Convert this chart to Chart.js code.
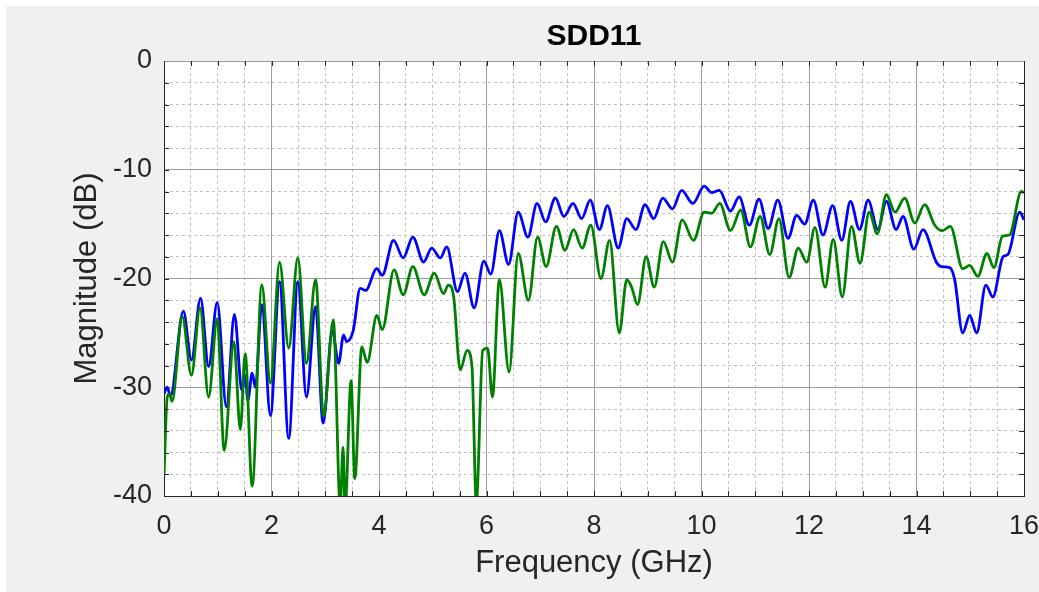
<!DOCTYPE html>
<html>
<head>
<meta charset="utf-8">
<script src="https://cdn.jsdelivr.net/npm/chart.js@4.4.1/dist/chart.umd.min.js"></script>
<style>
  html, body { margin: 0; padding: 0; background: #ffffff; }
  #wrap { position: absolute; left: 6px; top: 6px; width: 1033px; height: 586px; background: #f0f0f0; }
</style>
</head>
<body>
<div id="wrap"><canvas id="sdd11"></canvas></div>
<script>
// Datos (frecuencia en GHz, magnitud en dB)
const blueFreq = [0.00, 0.06, 0.12, 0.36, 0.51, 0.68, 0.83, 0.99, 1.16, 1.31, 1.45, 1.51, 1.56, 1.64, 1.70,
  1.82, 1.98, 2.15, 2.32, 2.49, 2.65, 2.82, 2.96, 3.13, 3.25, 3.34, 3.40, 3.52, 3.65, 3.75, 3.96, 4.06,
  4.27, 4.45, 4.63, 4.83, 4.98, 5.14, 5.26, 5.46, 5.60, 5.77, 5.95, 6.08, 6.24, 6.41, 6.59, 6.77, 6.94,
  7.10, 7.28, 7.44, 7.61, 7.77, 7.93, 8.10, 8.25, 8.45, 8.61, 8.78, 8.95, 9.11, 9.28, 9.46, 9.63, 9.84,
  10.05, 10.19, 10.33, 10.54, 10.70, 10.89, 11.07, 11.24, 11.42, 11.61, 11.77, 11.92, 12.08, 12.26, 12.44,
  12.61, 12.77, 12.94, 13.10, 13.28, 13.44, 13.62, 13.75, 13.95, 14.12, 14.37, 14.46, 14.62, 14.71, 14.86,
  14.99, 15.12, 15.29, 15.42, 15.61, 15.70, 15.92, 16.00];
const blueMag = [-30.6, -30.0, -30.8, -23.0, -27.5, -21.8, -28.1, -22.2, -31.8, -23.3, -30.3, -28.9, -31.2, -28.7, -30.0,
  -22.4, -32.6, -20.3, -34.7, -20.3, -30.9, -22.6, -33.3, -24.8, -27.8, -25.2, -25.8, -24.8, -20.9, -21.1, -19.1, -19.7,
  -16.5, -18.1, -16.2, -18.5, -17.2, -18.1, -17.1, -21.2, -19.5, -22.7, -18.4, -19.6, -15.6, -18.7, -13.9, -16.2, -13.1,
  -14.8, -12.6, -14.3, -13.1, -14.5, -12.8, -15.5, -13.3, -17.2, -14.5, -15.5, -13.2, -14.5, -12.6, -13.6, -11.9, -13.1,
  -11.5, -12.1, -11.9, -13.8, -12.5, -15.1, -12.7, -15.4, -12.8, -16.3, -14.2, -15.0, -12.8, -16.0, -13.3,
  -16.5, -12.9, -15.5, -12.8, -15.5, -12.9, -15.5, -14.3, -17.3, -15.5, -18.5, -18.9, -19.0, -20.1, -25.0,
  -23.4, -25.0, -20.6, -21.7, -18.0, -17.8, -13.9, -14.6];

const greenFreq = [0.00, 0.06, 0.10, 0.15, 0.34, 0.51, 0.67, 0.83, 0.99, 1.12, 1.30, 1.42, 1.51, 1.64, 1.82,
  1.98, 2.15, 2.32, 2.49, 2.65, 2.82, 2.97, 3.15, 3.28, 3.33, 3.37, 3.48, 3.55, 3.68, 3.78, 3.96, 4.06,
  4.28, 4.45, 4.63, 4.84, 5.03, 5.20, 5.29, 5.39, 5.51, 5.64, 5.73, 5.81, 5.93, 6.02, 6.11, 6.24, 6.42,
  6.59, 6.78, 6.95, 7.11, 7.30, 7.46, 7.62, 7.78, 7.94, 8.13, 8.29, 8.47, 8.61, 8.70, 8.81, 8.97, 9.12,
  9.29, 9.46, 9.64, 9.85, 10.05, 10.19, 10.34, 10.54, 10.73, 10.91, 11.09, 11.27, 11.44, 11.63, 11.80,
  11.96, 12.11, 12.30, 12.45, 12.62, 12.79, 12.95, 13.12, 13.27, 13.44, 13.60, 13.78, 13.97, 14.15, 14.34,
  14.48, 14.63, 14.86, 14.99, 15.14, 15.31, 15.44, 15.60, 15.73, 15.95, 16.00];
const greenMag = [-38.1, -30.9, -30.6, -31.3, -23.5, -28.9, -22.7, -30.9, -23.7, -35.8, -25.8, -33.9, -26.9, -39.1, -20.6,
  -29.6, -18.5, -26.4, -18.1, -27.8, -20.1, -32.7, -23.8, -41.0, -35.5, -41.0, -29.4, -38.4, -26.3, -27.7, -23.4, -24.7,
  -19.2, -21.5, -18.9, -21.5, -19.5, -21.4, -20.6, -21.7, -28.4, -26.6, -28.1, -40.6, -26.6, -26.4, -30.9, -20.1, -28.6,
  -17.7, -22.0, -16.2, -18.9, -15.2, -17.4, -15.5, -17.2, -15.1, -20.0, -16.5, -25.0, -20.1, -20.8, -22.4, -18.0, -20.8,
  -16.6, -18.5, -14.6, -16.5, -13.9, -14.0, -13.1, -15.6, -13.7, -17.1, -14.3, -17.8, -14.5, -19.9, -17.2,
  -18.5, -15.3, -20.8, -16.4, -21.7, -15.2, -18.6, -13.9, -15.9, -12.3, -13.9, -12.6, -14.9, -13.2, -15.1,
  -15.6, -15.2, -19.1, -18.8, -19.8, -17.7, -19.0, -16.1, -16.0, -12.0, -12.1];

const xMin = 0, xMax = 16, xMajor = 2, xMinor = 0.5;
const yMin = -40, yMax = 0, yMajor = 10, yMinor = 2;

const FONT = '"Liberation Sans", Arial, Helvetica, sans-serif';
const AXIS_COLOR = '#262626';
const MAJOR_GRID = '#9c9c9c';
const MINOR_GRID = '#c0c0c0';

const toPoints = (xs, ys) => xs.map((x, i) => ({ x, y: ys[i] }));

// Fondo blanco del área de trazado
const plotBackground = {
  id: 'plotBackground',
  beforeDraw(chart) {
    const { ctx, chartArea: a } = chart;
    ctx.save();
    ctx.fillStyle = '#ffffff';
    ctx.fillRect(a.left, a.top, a.right - a.left, a.bottom - a.top);
    ctx.restore();
  }
};

// Marcas de graduación hacia dentro, estilo MATLAB
const inwardTicks = {
  id: 'inwardTicks',
  afterDatasetsDraw(chart) {
    const { ctx, chartArea: a, scales } = chart;
    const len = 5;
    ctx.save();
    ctx.strokeStyle = AXIS_COLOR;
    ctx.lineWidth = 1;
    ctx.beginPath();
    for (let v = xMin + xMinor; v < xMax; v += xMinor) {
      const px = Math.round(scales.x.getPixelForValue(v)) + 0.5;
      ctx.moveTo(px, a.bottom); ctx.lineTo(px, a.bottom - len);
      ctx.moveTo(px, a.top); ctx.lineTo(px, a.top + len);
    }
    for (let v = yMin + yMinor; v < yMax; v += yMinor) {
      const py = Math.round(scales.y.getPixelForValue(v)) + 0.5;
      ctx.moveTo(a.left, py); ctx.lineTo(a.left + len, py);
      ctx.moveTo(a.right, py); ctx.lineTo(a.right - len, py);
    }
    ctx.stroke();
    ctx.restore();
  }
};

const isMajor = (v, step) => Math.abs(v / step - Math.round(v / step)) < 1e-6;

new Chart(document.getElementById('sdd11'), {
  type: 'line',
  data: {
    datasets: [
      {
        label: 'blue',
        data: toPoints(blueFreq, blueMag),
        borderColor: '#0000ff',
        borderWidth: 2.8,
        pointRadius: 0,
        cubicInterpolationMode: 'monotone',
        order: 2,
      },
      {
        label: 'green',
        data: toPoints(greenFreq, greenMag),
        borderColor: '#008000',
        borderWidth: 2.8,
        pointRadius: 0,
        cubicInterpolationMode: 'monotone',
        order: 1,
      },
    ],
  },
  options: {
    responsive: true,
    maintainAspectRatio: false,
    animation: false,
    layout: { padding: { top: 0, left: 0, right: 15, bottom: 0 } },
    plugins: {
      legend: { display: false },
      tooltip: { enabled: false },
      title: {
        display: true,
        text: 'SDD11',
        fullSize: false,
        color: '#000000',
        font: { family: FONT, size: 30, weight: 'bold' },
        padding: { top: 13, bottom: 6 },
      },
    },
    scales: {
      x: {
        type: 'linear',
        position: 'bottom',
        min: xMin, max: xMax,
        afterFit: (s) => { s.height = 96; s.paddingLeft = 0; s.paddingRight = 0; },
        ticks: {
          stepSize: xMinor,
          autoSkip: false,
          maxRotation: 0,
          padding: 14,
          color: AXIS_COLOR,
          font: { family: FONT, size: 27 },
          callback: (v) => (isMajor(v, xMajor) ? v : ''),
        },
        grid: {
          drawTicks: false,
          color: (c) => {
            const v = c.tick ? c.tick.value : 0;
            if (v === xMax) return AXIS_COLOR;
            return isMajor(v, xMajor) ? MAJOR_GRID : 'rgba(0,0,0,0)';
          },
        },
        border: { display: true, color: AXIS_COLOR, width: 1 },
        title: {
          display: true,
          text: 'Frequency (GHz)',
          color: AXIS_COLOR,
          font: { family: FONT, size: 31 },
          padding: { top: 0, bottom: 10.4 },
        },
      },
      xMinorGrid: {
        type: 'linear',
        position: 'bottom',
        min: xMin, max: xMax,
        afterFit: (s) => { s.height = 0; s.paddingLeft = 0; s.paddingRight = 0; },
        ticks: { display: false, stepSize: xMinor, autoSkip: false },
        grid: {
          drawTicks: false,
          color: (c) => (c.tick && !isMajor(c.tick.value, xMajor) ? MINOR_GRID : 'rgba(0,0,0,0)'),
        },
        border: { display: false, dash: [3, 3] },
      },
      y: {
        type: 'linear',
        position: 'left',
        min: yMin, max: yMax,
        afterFit: (s) => { s.width = 158; s.paddingTop = 0; s.paddingBottom = 0; },
        ticks: {
          stepSize: yMinor,
          autoSkip: false,
          padding: 12,
          color: AXIS_COLOR,
          font: { family: FONT, size: 27 },
          callback: (v) => (isMajor(v, yMajor) ? v : ''),
        },
        grid: {
          drawTicks: false,
          color: (c) => (c.tick && isMajor(c.tick.value, yMajor) ? MAJOR_GRID : 'rgba(0,0,0,0)'),
        },
        border: { display: true, color: AXIS_COLOR, width: 1 },
        title: {
          display: true,
          text: 'Magnitude (dB)',
          color: AXIS_COLOR,
          font: { family: FONT, size: 31 },
          padding: { top: 62.4, bottom: 0 },
        },
      },
      yMinorGrid: {
        type: 'linear',
        position: 'left',
        min: yMin, max: yMax,
        afterFit: (s) => { s.width = 0; s.paddingTop = 0; s.paddingBottom = 0; },
        ticks: { display: false, stepSize: yMinor, autoSkip: false },
        grid: {
          drawTicks: false,
          color: (c) => (c.tick && !isMajor(c.tick.value, yMajor) ? MINOR_GRID : 'rgba(0,0,0,0)'),
        },
        border: { display: false, dash: [3, 3] },
      },
    },
  },
  plugins: [plotBackground, inwardTicks],
});
</script>
</body>
</html>
